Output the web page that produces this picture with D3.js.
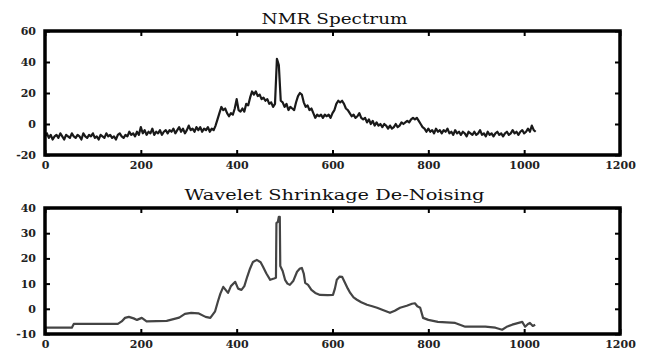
<!DOCTYPE html>
<html>
<head>
<meta charset="utf-8">
<script src="https://cdn.jsdelivr.net/npm/d3@7"></script>
<style>
  body { margin: 0; background: #fff; }
  svg { display: block; }
</style>
</head>
<body>
<svg id="chart" width="648" height="353"></svg>
<script>
// ── Data ────────────────────────────────────────────────────────────────
const xTicks = [0, 200, 400, 600, 800, 1000, 1200];
const topYTicks = [-20, 0, 20, 40, 60];
const bottomYTicks = [-10, 0, 10, 20, 30, 40];

// raw spectrum, one value every 4 samples (0..1024)
const noisyStep = 4;
const noisy = [
  -8, -6, -9, -7, -10, -8, -7, -9, -6, -8, -10, -7, -8, -9, -6, -8,
  -9, -7, -8, -10, -6, -8, -9, -7, -8, -6, -9, -8, -10, -7, -8, -9,
  -6, -8, -7, -9, -8, -10, -7, -6, -8, -9, -7, -8, -5, -7, -6, -8,
  -5, -7, -2, -6, -4, -7, -5, -6, -3, -7, -5, -6, -4, -7, -5, -4,
  -6, -4, -5, -3, -6, -4, -2, -5, -3, -6, -4, -1, -4, -3, -5, -2,
  -4, -2, -5, -3, -4, -2, -5, -3, -4, -1, 3, 7, 11, 9, 10, 7,
  5, 7, 6, 10, 16, 9, 8, 10, 8, 13, 12, 17, 21, 19, 21, 18,
  19, 16, 17, 15, 16, 13, 14, 11, 13, 42, 38, 15, 14, 11, 13, 9,
  11, 10, 9, 14, 18, 20, 19, 14, 11, 12, 9, 10, 7, 4, 6, 5,
  6, 4, 6, 5, 6, 4, 7, 9, 13, 15, 14, 15, 13, 10, 9, 7,
  5, 6, 4, 5, 7, 4, 3, 4, 1, 3, 0, 2, -1, 1, -1, 0,
  -2, 0, -1, -3, -1, -3, -2, 0, -2, -1, 1, 0, 1, 2, 1, 3,
  4, 3, 4, 2, 0, -2, -3, -5, -3, -5, -4, -6, -3, -5, -4, -6,
  -4, -5, -3, -6, -5, -7, -4, -6, -5, -7, -5, -6, -8, -5, -6, -7,
  -5, -7, -6, -4, -7, -6, -8, -5, -7, -6, -8, -6, -5, -7, -6, -8,
  -6, -5, -7, -6, -4, -6, -5, -7, -5, -4, -6, -5, -3, -5, -1, -4,
  -5
];

// de-noised spectrum, read at uneven sample positions
const denoisedX = [
  0, 56, 60, 152, 160, 167, 175, 185, 192, 202, 212, 254, 280, 292, 305, 320,
  335, 345, 355, 361, 366, 372, 377, 382, 388, 397, 403, 410, 416, 422, 428, 434,
  442, 450, 455, 462, 470, 478, 482, 483, 486, 488, 490, 491, 496, 501, 506, 511,
  518, 526, 532, 536, 540, 543, 549, 556, 564, 574, 590, 601, 605, 609, 615, 620,
  626, 632, 637, 644, 651, 660, 672, 683, 693, 705, 720, 730, 741, 755, 766, 772,
  777, 783, 789, 800, 820, 856, 877, 919, 940, 954, 965, 975, 996, 1002, 1008, 1012,
  1018, 1023
];
const denoisedY = [
  -7.5, -7.5, -6, -6, -5, -3.6, -3.2, -3.8, -4.4, -3.6, -5, -4.8, -3.5, -2, -1.6, -1.8,
  -3.2, -3.6, -1, 3, 6, 8.7, 7.5, 6.3, 9, 10.7, 8, 7.5, 9, 12.7, 16, 18.6,
  19.4, 18.5, 16.7, 14, 11.5, 12, 12.3, 34, 34.5, 36.5, 36.5, 17, 15, 11.5, 10, 9.5,
  11, 14.7, 16, 16.2, 14, 10.3, 9.5, 7.5, 6.3, 5.5, 5.4, 5.5, 8, 11.5, 12.8, 12.7,
  10.3, 8, 6.3, 4.5, 3.6, 2.6, 1.6, 1, 0.4, -0.5, -1.6, -0.8, 0.4, 1.2, 2, 2.2,
  1, 0.4, -3.6, -4.4, -5.2, -5.6, -7.1, -7.1, -7.5, -8.3, -7, -6.3, -5.2, -7.1, -6, -5.6,
  -6.8, -6.3
];

// ── Layout ──────────────────────────────────────────────────────────────
const svg = d3.select("#chart");
const FONT = "DejaVu Serif, Liberation Serif, serif";
const left = 45, right = 620;

const x = d3.scaleLinear().domain([0, 1200]).range([left, right]);
const plain = (d) => String(d);   // "1000", "-20" like the original, no grouping

function drawPanel(opt) {
  const y = d3.scaleLinear().domain(opt.yDomain).range([opt.bottom, opt.top]);
  const g = svg.append("g");

  // title
  g.append("text")
    .attr("x", (left + right) / 2 + 2)
    .attr("y", opt.titleY)
    .attr("text-anchor", "middle")
    .attr("textLength", opt.titleWidth)
    .attr("lengthAdjust", "spacingAndGlyphs")
    .style("font-family", FONT)
    .style("font-size", "15px")
    .attr("fill", "#111")
    .text(opt.title);

  // series
  const line = d3.line()
    .x((d) => x(d[0]))
    .y((d) => y(d[1]));
  g.append("path")
    .datum(opt.points)
    .attr("fill", "none")
    .attr("stroke", opt.stroke)
    .attr("stroke-width", opt.strokeWidth)
    .attr("stroke-linejoin", "round")
    .attr("d", line);

  // inward ticks on all four sides
  const styleAxis = (sel) => {
    sel.select(".domain").remove();
    sel.selectAll(".tick line").attr("stroke", "#000").attr("stroke-width", 2);
    sel.selectAll(".tick text")
      .style("font-family", FONT)
      .style("font-size", "11px")
      .style("font-weight", "bold")
      .attr("fill", "#222");
  };

  g.append("g")
    .attr("transform", `translate(0,${opt.bottom})`)
    .call(d3.axisBottom(x).tickValues(xTicks).tickSize(-5).tickPadding(6).tickFormat(plain))
    .call(styleAxis);
  g.append("g")
    .attr("transform", `translate(0,${opt.top})`)
    .call(d3.axisTop(x).tickValues(xTicks).tickSize(-5).tickFormat(""))
    .call(styleAxis);
  g.append("g")
    .attr("transform", `translate(${left},0)`)
    .call(d3.axisLeft(y).tickValues(opt.yTicks).tickSize(-5).tickPadding(9).tickFormat(plain))
    .call(styleAxis);
  g.append("g")
    .attr("transform", `translate(${right},0)`)
    .call(d3.axisRight(y).tickValues(opt.yTicks).tickSize(-5).tickFormat(""))
    .call(styleAxis);

  // frame
  g.append("rect")
    .attr("x", left).attr("y", opt.top)
    .attr("width", right - left).attr("height", opt.bottom - opt.top)
    .attr("fill", "none")
    .attr("stroke", "#000")
    .attr("stroke-width", 3.5);
}

drawPanel({
  title: "NMR Spectrum",
  titleY: 24,
  titleWidth: 146,
  top: 31,
  bottom: 155,
  yDomain: [-20, 60],
  yTicks: topYTicks,
  points: noisy.map((v, i) => [i * noisyStep, v]),
  stroke: "#1a1a1a",
  strokeWidth: 2.2
});

drawPanel({
  title: "Wavelet Shrinkage De-Noising",
  titleY: 200,
  titleWidth: 300,
  top: 208,
  bottom: 334,
  yDomain: [-10, 40],
  yTicks: bottomYTicks,
  points: denoisedX.map((v, i) => [v, denoisedY[i]]),
  stroke: "#444",
  strokeWidth: 2.2
});
</script>
</body>
</html>
